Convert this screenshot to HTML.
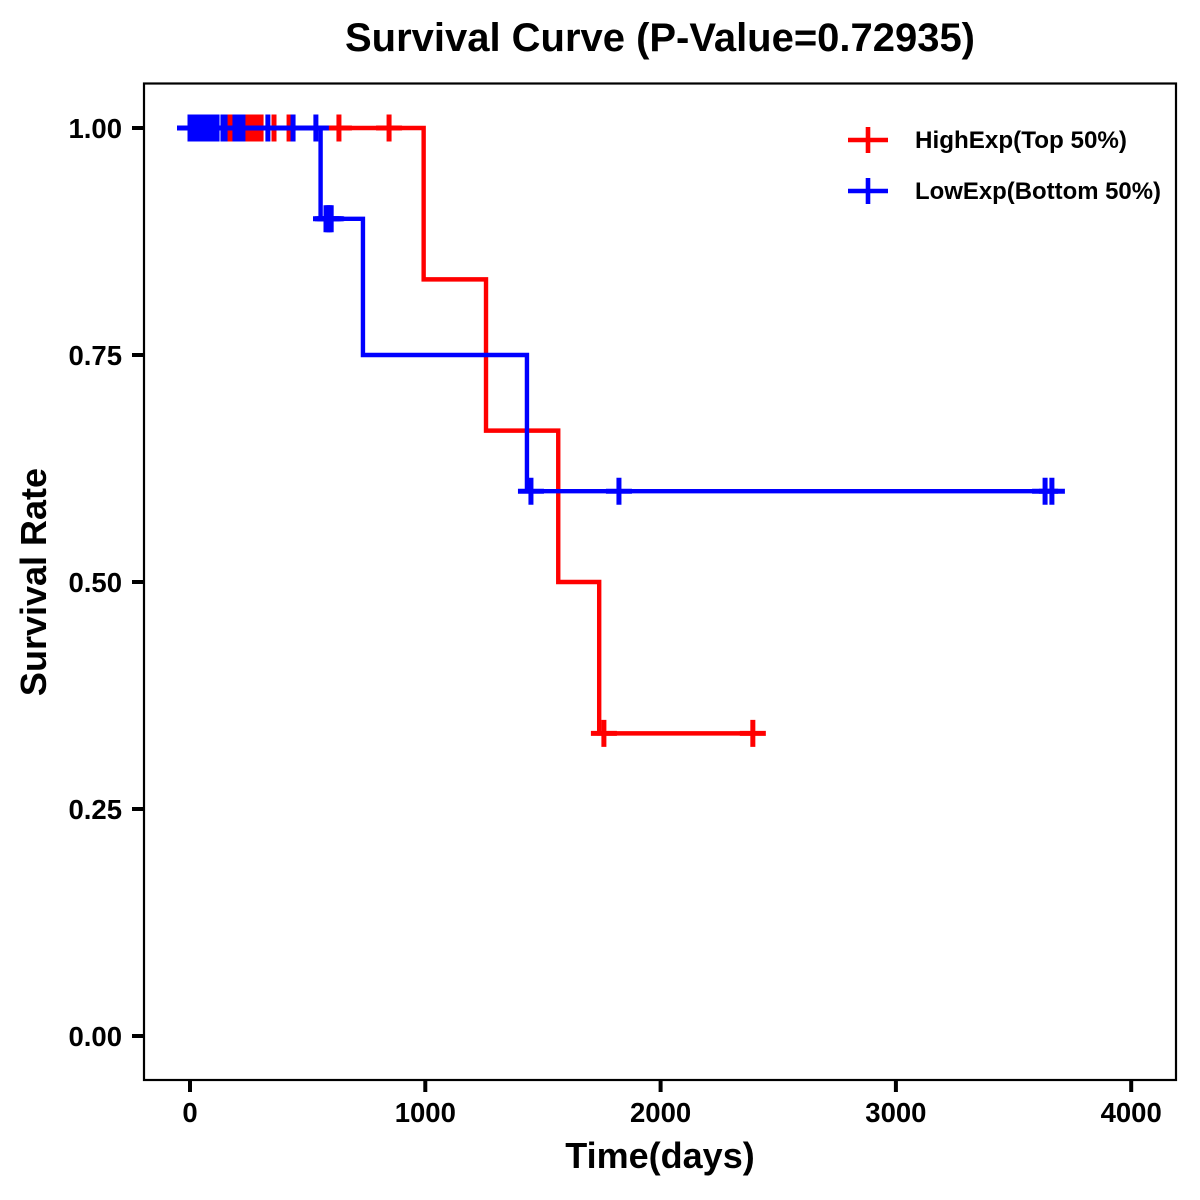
<!DOCTYPE html>
<html>
<head>
<meta charset="utf-8">
<title>Survival Curve</title>
<style>
html,body{margin:0;padding:0;background:#fff;}
svg{display:block;}
text{font-family:"Liberation Sans",Arial,sans-serif;font-weight:bold;fill:#000;}
</style>
</head>
<body>
<svg id="chart" xmlns="http://www.w3.org/2000/svg" width="1200" height="1200" viewBox="0 0 1200 1200">
  <rect x="0" y="0" width="1200" height="1200" fill="#fff"/>
  <text x="660" y="51" font-size="36" textLength="630" lengthAdjust="spacingAndGlyphs" text-anchor="middle" style="font-size:40px">Survival Curve (P-Value=0.72935)</text>
  <text transform="translate(46,582) rotate(-90)" text-anchor="middle" style="font-size:36px">Survival Rate</text>
  <text x="660" y="1168" text-anchor="middle" style="font-size:36px">Time(days)</text>
  <g id="ticks"></g>
  <g id="series"></g>
  <rect x="144" y="83.5" width="1032" height="996.5" fill="none" stroke="#000" stroke-width="2.2"/>
  <g>
    <g>
      <path d="M848 140H888M868 127V153" stroke="#f00" stroke-width="4.6" fill="none"/>
      <text x="915" y="148" textLength="212" lengthAdjust="spacingAndGlyphs" style="font-size:24px">HighExp(Top 50%)</text>
    </g>
    <g>
      <path d="M848 191H888M868 178V204" stroke="#00f" stroke-width="4.6" fill="none"/>
      <text x="915" y="199" textLength="246" lengthAdjust="spacingAndGlyphs" style="font-size:24px">LowExp(Bottom 50%)</text>
    </g>
  </g>
</svg>
<script>
var xTickValues = [0, 1000, 2000, 3000, 4000];
var yTickValues = [0, 0.25, 0.5, 0.75, 1];
var yTickLabels = ["0.00", "0.25", "0.50", "0.75", "1.00"];

var highStepTimes = [0, 993, 1258, 1565, 1739, 2395];
var highStepSurvival = [1, 0.8333, 0.6667, 0.5, 0.3333, 0.3333];
var highCensorTimes = [170, 178, 232, 240, 251, 260, 268, 276, 285, 293, 302, 357, 421, 633, 846, 1759, 2392];
var highCensorSurvival = [1, 1, 1, 1, 1, 1, 1, 1, 1, 1, 1, 1, 1, 1, 1, 0.3333, 0.3333];

var lowStepTimes = [0, 555, 735, 1432, 3663];
var lowStepSurvival = [1, 0.9, 0.75, 0.6, 0.6];
var lowCensorTimes = [0, 13, 25, 38, 51, 64, 76, 84, 102, 115, 140, 149, 191, 208, 225, 331, 438, 535, 578, 586, 594, 600, 1449, 1823, 3634, 3663];
var lowCensorSurvival = [1, 1, 1, 1, 1, 1, 1, 1, 1, 1, 1, 1, 1, 1, 1, 1, 1, 1, 0.9, 0.9, 0.9, 0.9, 0.6, 0.6, 0.6, 0.6];

function xScale(t) { return 190 + t * 0.2353; }
function yScale(s) { return 1036 - s * 908; }

var NS = 'http://www.w3.org/2000/svg';
var ticksGroup = document.getElementById('ticks');
var seriesGroup = document.getElementById('series');

function make(tag, attrs, parent) {
  var el = document.createElementNS(NS, tag);
  for (var k in attrs) { el.setAttribute(k, attrs[k]); }
  parent.appendChild(el);
  return el;
}

xTickValues.forEach(function (v) {
  var x = xScale(v);
  var tick = make('line', { x1: x, x2: x, y1: 1080, y2: 1092, stroke: '#000', 'stroke-width': 4 }, ticksGroup);
  
  
  var label = make('text', { x: x, y: 1122, 'text-anchor': 'middle', style: 'font-size:27.5px' }, ticksGroup);
  
  
  label.textContent = String(v);
});

yTickValues.forEach(function (v, i) {
  var y = yScale(v);
  var tick = make('line', { x1: 132, x2: 144, y1: y, y2: y, stroke: '#000', 'stroke-width': 4 }, ticksGroup);
  
  
  var label = make('text', { x: 122, y: y + 10, 'text-anchor': 'end', style: 'font-size:27.5px' }, ticksGroup);
  
  
  label.textContent = yTickLabels[i];
});

function stepPath(times, survival) {
  var d = 'M' + xScale(times[0]) + ' ' + yScale(survival[0]);
  for (var i = 1; i < times.length; i++) {
    d += 'H' + xScale(times[i]) + 'V' + yScale(survival[i]);
  }
  return d;
}

function drawSeries(name, color, stepTimes, stepSurvival, censorTimes, censorSurvival) {
  var g = make('g', {}, seriesGroup);
  
  
  var line = make('path', { d: stepPath(stepTimes, stepSurvival), fill: 'none', stroke: color, 'stroke-width': 4.4, 'stroke-linejoin': 'miter' }, g);
  
  
  censorTimes.forEach(function (t, i) {
    var x = xScale(t);
    var y = yScale(censorSurvival[i]);
    var mark = make('path', { d: 'M' + (x - 13) + ' ' + y + 'H' + (x + 13) + 'M' + x + ' ' + (y - 13.5) + 'V' + (y + 13.5), fill: 'none', stroke: color, 'stroke-width': 5 }, g);
    
    
  });
}

drawSeries('high-exp', '#f00', highStepTimes, highStepSurvival, highCensorTimes, highCensorSurvival);
drawSeries('low-exp', '#00f', lowStepTimes, lowStepSurvival, lowCensorTimes, lowCensorSurvival);
</script>
</body>
</html>
